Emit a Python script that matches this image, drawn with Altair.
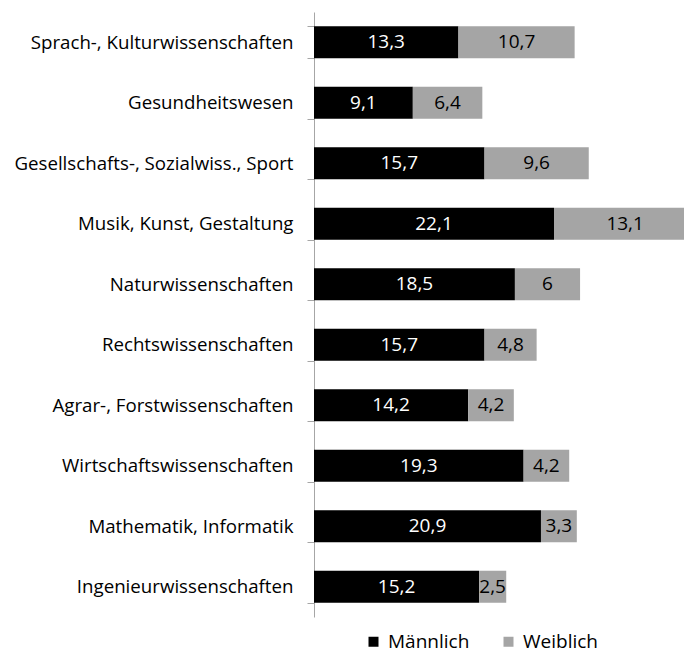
import altair as alt
import pandas as pd

categories = [
    "Sprach-, Kulturwissenschaften",
    "Gesundheitswesen",
    "Gesellschafts-, Sozialwiss., Sport",
    "Musik, Kunst, Gestaltung",
    "Naturwissenschaften",
    "Rechtswissenschaften",
    "Agrar-, Forstwissenschaften",
    "Wirtschaftswissenschaften",
    "Mathematik, Informatik",
    "Ingenieurwissenschaften",
]
maennlich = [13.3, 9.1, 15.7, 22.1, 18.5, 15.7, 14.2, 19.3, 20.9, 15.2]
weiblich = [10.7, 6.4, 9.6, 13.1, 6.0, 4.8, 4.2, 4.2, 3.3, 2.5]
series = ["Männlich", "Weiblich"]
colors = ["#000000", "#a5a5a5"]
label_colors = ["#ffffff", "#000000"]


def fmt(v):
    s = ("%.1f" % v).rstrip("0").rstrip(".")
    return s.replace(".", ",")


rows = []
for i, c in enumerate(categories):
    m, w = maennlich[i], weiblich[i]
    rows.append(dict(cat=c, ser=series[0], start=0.0, end=m, mid=m / 2, lab=fmt(m), order=0))
    rows.append(dict(cat=c, ser=series[1], start=m, end=m + w, mid=m + w / 2, lab=fmt(w), order=1))
df = pd.DataFrame(rows)

FONT = "Open Sans"

y = alt.Y(
    "cat:N",
    sort=categories,
    title=None,
    scale=alt.Scale(paddingInner=0.47, paddingOuter=0.235),
    axis=alt.Axis(
        tickBand="extent",
        domainColor="#a6a6a6",
        tickColor="#a6a6a6",
        tickSize=7,
        labelPadding=14,
        labelFont=FONT,
        labelFontSize=18.7,
        labelColor="#000000",
        labelLimit=400,
    ),
)
xscale = alt.Scale(domain=[0, 34.07], nice=False, zero=True)

bars = alt.Chart(df).mark_bar(clip=True).encode(
    y=y,
    x=alt.X("start:Q", scale=xscale, axis=None),
    x2="end:Q",
    color=alt.Color(
        "ser:N",
        scale=alt.Scale(domain=series, range=colors),
        title=None,
        legend=alt.Legend(
            orient="none",
            direction="horizontal",
            legendX=50,
            legendY=620,
            symbolType="square",
            symbolSize=100,
            symbolStrokeWidth=0,
            labelFont=FONT,
            labelFontSize=19,
            labelColor="#000000",
            columnPadding=29,
            labelOffset=5,
        ),
    ),
)

texts = alt.Chart(df).mark_text(font=FONT, fontSize=19).encode(
    y=alt.Y("cat:N", sort=categories),
    x=alt.X("mid:Q", scale=xscale),
    text="lab:N",
    color=alt.Color("ser:N", scale=alt.Scale(domain=series, range=label_colors), legend=None),
)

chart = (
    alt.layer(bars, texts)
    .resolve_scale(color="independent")
    .properties(
        width=370,
        height=605,
        autosize=alt.AutoSizeParams(type="none"),
        padding={"left": 306, "top": 4, "right": 0, "bottom": 38},
    )
    .configure_view(stroke=None)
)

chart.save("out.html", embed_options={"renderer": "svg", "actions": False})
